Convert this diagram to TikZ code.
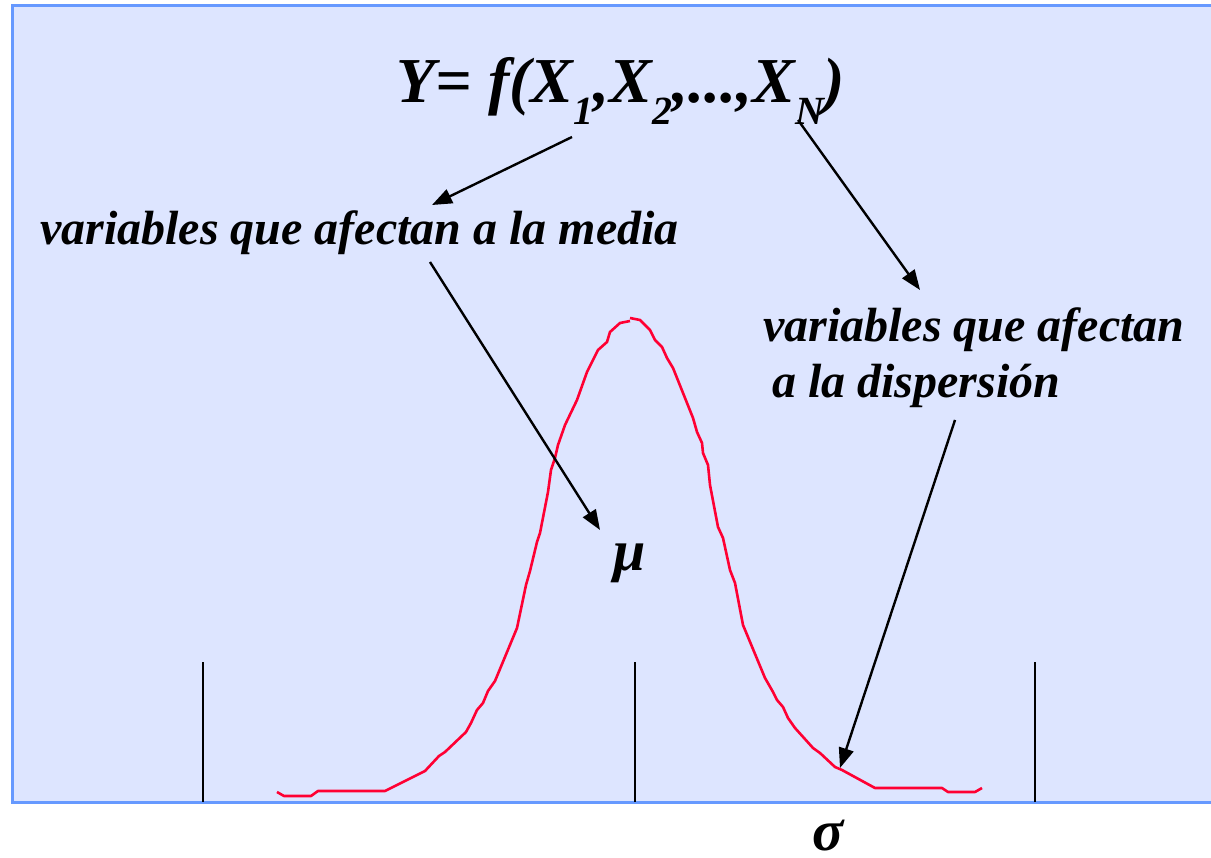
\documentclass[tikz,border=0pt]{standalone}
\usepackage{fontspec}
\setmainfont{Liberation Serif}
\usetikzlibrary{arrows.meta}
\definecolor{bgblue}{HTML}{DDE5FF}
\definecolor{edgeblue}{HTML}{6699FF}
\definecolor{curvered}{HTML}{FF0033}
\newcommand\mysub[1]{\raisebox{-0.34em}{\fontsize{40}{40}\selectfont #1}}
\tikzset{
  lbl/.style={inner sep=0pt, font=\fontsize{48}{56}\selectfont\bfseries\itshape},
  greek/.style={inner sep=0pt, font=\fontsize{58}{60}\selectfont\bfseries\itshape},
  conn/.style={line width=2.4pt, -{Triangle[length=20pt,width=15pt]}},
  tick/.style={line width=2pt},
  curve/.style={curvered, line width=2.6pt, line join=round}
}
\begin{document}
\begin{tikzpicture}[x=1pt,y=-1pt]
\useasboundingbox (0,0) rectangle (1211,858);
\fill[bgblue] (12,6) rectangle (1216,802);
\draw[edgeblue, line width=3pt] (1216,6) -- (12,6) -- (12,802) -- (1216,802);

% ticks
\draw[tick] (203,662) -- (203,802);
\draw[tick] (635,662) -- (635,802);
\draw[tick] (1035,662) -- (1035,802);

% curve
\draw[curve] plot coordinates {(277,792) (284,796) (311,796) (318,791) (385,791) (425,771) (439,756) (445,752) (466,732) (471,723) (477,710) (483,703) (488,691) (495,681) (517,628) (526,585) (530,571) (537,542) (540,533) (548,492) (551,470) (555,458) (558,445) (565,425) (577,400) (587,372) (598,350) (607,342) (610,332) (620,323) (630,321)};
\draw[curve] plot coordinates {(630,318) (640,320) (650,330) (655,340) (662,347) (667,358) (673,368) (693,418) (697,432) (702,443) (703,453) (708,465) (710,485) (718,527) (723,538) (730,570) (735,583) (743,625) (765,678) (773,692) (777,700) (783,707) (788,718) (795,728) (813,748) (820,753) (835,767) (842,770) (875,788) (942,788) (948,792) (975,792) (982,788)};

% texts
\node[lbl, font=\fontsize{64}{70}\selectfont\bfseries\itshape, anchor=base] (title) at (621,103)
  {Y= f(X\mysub{1},X\mysub{2},...,X\mysub{N})};
\node[lbl, anchor=base west] (media) at (40,245) {variables que afectan a la media};
\node[lbl, anchor=base west] (disp) at (763,342) {variables que afectan};
\node[lbl, anchor=base west] (disp2) at (772,398) {a la dispersión};
\node[greek, anchor=base] (mu) at (630,570) {μ};
\node[greek, anchor=base] (sigma) at (828,850) {σ};

% connector end points
\coordinate (a1s) at (572,137);
\coordinate (a1e) at (432,205);
\coordinate (a2s) at (798,120);
\coordinate (a2e) at (920,290);
\coordinate (a3s) at (430,262);
\coordinate (a3e) at (600,530);
\coordinate (a4s) at (955,420);
\coordinate (a4e) at (840,768);

\draw[conn] (a1s) -- (a1e);
\draw[conn] (a2s) -- (a2e);
\draw[conn] (a3s) -- (a3e);
\draw[conn] (a4s) -- (a4e);
\end{tikzpicture}
\end{document}
